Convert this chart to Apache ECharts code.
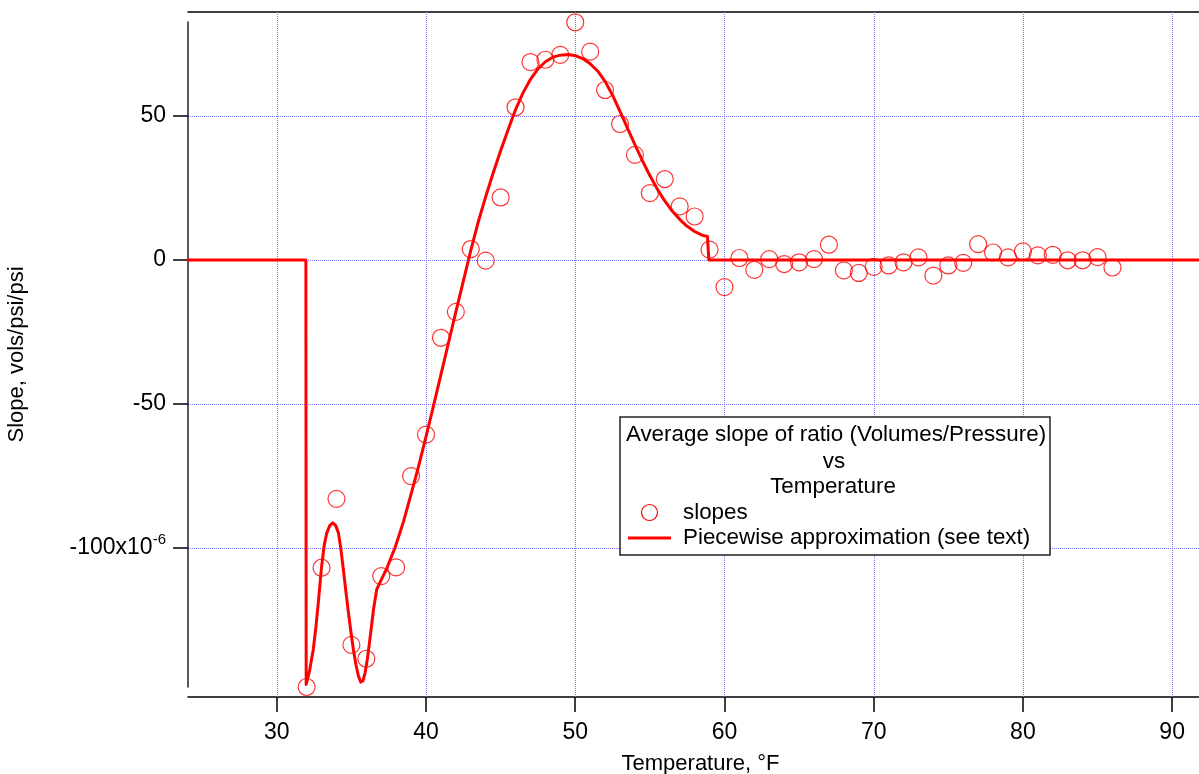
<!DOCTYPE html>
<html>
<head>
<meta charset="utf-8">
<script src="https://cdn.jsdelivr.net/npm/echarts@6/dist/echarts.min.js"></script>
<style>
html,body{margin:0;padding:0;background:#fff;}
#chart{width:1199px;height:774px;}
</style>
</head>
<body>
<div id="chart"></div>
<script>
// ---- data (slopes in units of 1e-6 vols/psi/psi) ----
const tempF = [32,33,34,35,36,37,38,39,40,41,42,43,44,45,46,47,48,49,50,51,52,53,54,55,56,57,58,59,
  60,61,62,63,64,65,66,67,68,69,70,71,72,73,74,75,76,77,78,79,80,81,82,83,84,85,86];
const slopes = [-148.2,-106.8,-82.9,-133.6,-138.4,-109.7,-106.7,-75.0,-60.6,-27.0,-18.0,3.8,-0.2,21.7,53.0,68.7,69.5,71.2,82.5,72.3,59.0,47.2,36.5,23.2,28.1,18.6,15.1,3.6,
  -9.4,0.7,-3.4,0.3,-1.4,-0.8,0.3,5.3,-3.6,-4.5,-2.4,-1.9,-0.8,0.9,-5.4,-1.9,-1.0,5.5,2.6,0.9,3.0,1.6,1.8,-0.1,-0.1,1.0,-2.6];

const approxT = [24.05,31.95,31.97,32.2,32.45,32.62,32.79,33.0,33.18,33.35,
  33.55,33.75,33.95,34.13,34.3,34.46,34.63,34.8,34.97,35.13,
  35.3,35.47,35.63,35.78,35.92,36.07,36.21,36.35,36.48,36.60,
  36.70,36.92,37.37,37.93,38.49,39.05,39.5,40.0,40.5,41.0,
  41.5,42.0,42.5,43.0,43.5,44.0,44.5,45.0,45.5,46.0,
  46.5,47.0,47.5,48.0,48.5,49.0,49.55,50.0,50.5,51.0,
  51.5,52.0,52.5,53.0,53.5,54.0,54.5,55.0,55.5,56.0,
  56.5,57.0,57.5,58.0,58.5,58.86,58.93,58.95,91.8];
const approxSlope = [0,0,-147.3,-142.5,-135,-127.5,-118.5,-106.5,-99,-94.7,
  -92.2,-91.2,-92.2,-94.7,-100.5,-107.4,-115,-122.4,-129.2,-135.1,
  -140.3,-144.4,-146.5,-146,-143.2,-138.5,-132.8,-127,-121.3,-117.5,
  -114.3,-111.9,-107.0,-99.8,-90.8,-80.3,-71.6,-61.3,-50.6,-39.8,
  -28.9,-18.0,-7.3,3.3,13.2,22.0,30.2,37.9,45.2,52.2,
  58.0,62.7,66.3,68.8,70.4,71.1,71.3,70.9,69.9,68.1,
  65.6,62.0,57.2,51.6,45.8,40.0,34.5,29.3,24.6,20.5,
  17.0,14.1,11.7,9.9,8.6,8.2,8.2,0,0];

const xTicks = [30,40,50,60,70,80,90];
const yTicks = [-100,-50,0,50];
const xRange = [24.05, 91.8];
const yRange = [-148.2, 82.6];

const FONT = "'Liberation Sans', Arial, sans-serif";
const GRID_COLOR = '#7373ff';
const gridLine = {show:true, lineStyle:{color:GRID_COLOR, width:1, type:[1,1]}};

const chart = echarts.init(document.getElementById('chart'), null, {renderer:'canvas'});
const option = {
  backgroundColor:'#fff',
  animation:false,
  grid:{left:188, right:0, top:22, bottom:87, containLabel:false, outerBoundsMode:'none'},
  xAxis:[{
    type:'value', min:xRange[0], max:xRange[1], position:'bottom', offset:10,
    name:'Temperature, °F', nameLocation:'middle', nameGap:56,
    nameTextStyle:{fontFamily:FONT, fontSize:22, color:'#000', padding:[0,0,0,14]},
    axisLine:{show:true, onZero:false, lineStyle:{color:'#000', width:1.5}},
    axisTick:{show:true, length:15, customValues:xTicks, lineStyle:{color:'#000', width:1.5}},
    axisLabel:{show:true, customValues:xTicks, margin:24, fontFamily:FONT, fontSize:23, color:'#000'},
    splitLine:{show:false}, minorTick:{show:false}
  },{
    type:'value', min:xRange[0], max:xRange[1], position:'top', offset:10,
    axisLine:{show:true, onZero:false, lineStyle:{color:'#000', width:1.5}},
    axisTick:{show:false}, axisLabel:{show:false}, splitLine:{show:false}
  }],
  yAxis:{
    type:'value', min:yRange[0], max:yRange[1],
    name:'Slope, vols/psi/psi', nameLocation:'middle', nameGap:160, nameRotate:90,
    nameTextStyle:{fontFamily:FONT, fontSize:22, color:'#000'},
    axisLine:{show:true, onZero:false, lineStyle:{color:'#222', width:1.5}},
    axisTick:{show:true, length:15, customValues:yTicks, lineStyle:{color:'#000', width:1.5}},
    axisLabel:{show:true, customValues:yTicks, margin:22, color:'#000',
      formatter:function(v){ return v === -100 ? '{a|-100x10}{sup|-6}' : '{a|' + v + '}'; },
      rich:{
        a:{fontFamily:FONT, fontSize:23, color:'#000'},
        sup:{fontFamily:FONT, fontSize:15, color:'#000', padding:[0,0,16,0]}
      }
    },
    splitLine:gridLine
  },
  series:[{
    // vertical grid lines at the x ticks, reaching from the top frame line to the bottom axis
    type:'custom', xAxisIndex:0, silent:true, clip:false, z:1,
    data: xTicks.map(v=>[v, 0]),
    encode:{x:0, y:1},
    renderItem:function(params, api){
      const x = Math.round(api.coord([api.value(0), yRange[0]])[0]) + 0.5;
      const yTop = api.coord([xRange[0], yRange[1]])[1] - 10;
      const yBot = api.coord([xRange[0], yRange[0]])[1] + 10;
      return {type:'line', shape:{x1:x, y1:yTop, x2:x, y2:yBot},
        style:{stroke:GRID_COLOR, lineWidth:1, lineDash:[1,1]}};
    }
  },{
    name:'slopes', type:'scatter', xAxisIndex:0,
    data: tempF.map((t,i)=>[t, slopes[i]]),
    symbol:'circle', symbolSize:17, clip:false,
    itemStyle:{color:'rgba(0,0,0,0)', borderColor:'#ff0000', borderWidth:1.2},
    z:3
  },{
    name:'Piecewise approximation (see text)', type:'line', xAxisIndex:0,
    data: approxT.map((t,i)=>[t, approxSlope[i]]),
    showSymbol:false, symbol:'none', clip:false, smooth:false,
    lineStyle:{color:'#ff0000', width:3, join:'round', cap:'round'},
    z:4
  }],
  graphic:[
    {type:'rect', shape:{x:620, y:417, width:430, height:138}, style:{fill:'#fff', stroke:'#222', lineWidth:1.5}, z:10},
    {type:'text', x:836, y:435, style:{text:'Average slope of ratio (Volumes/Pressure)', font:'22.4px '+FONT, fill:'#000', align:'center', verticalAlign:'middle', textAlign:'center', textVerticalAlign:'middle'}, z:11},
    {type:'text', x:834, y:461.5, style:{text:'vs', font:'22.4px '+FONT, fill:'#000', align:'center', verticalAlign:'middle', textAlign:'center', textVerticalAlign:'middle'}, z:11},
    {type:'text', x:833, y:487, style:{text:'Temperature', font:'22.4px '+FONT, fill:'#000', align:'center', verticalAlign:'middle', textAlign:'center', textVerticalAlign:'middle'}, z:11},
    {type:'circle', shape:{cx:649.5, cy:512.5, r:8}, style:{fill:'none', stroke:'#ff0000', lineWidth:1.2}, z:11},
    {type:'text', x:683, y:512.5, style:{text:'slopes', font:'22.4px '+FONT, fill:'#000', align:'left', verticalAlign:'middle', textAlign:'left', textVerticalAlign:'middle'}, z:11},
    {type:'line', shape:{x1:628, y1:538, x2:671, y2:538}, style:{stroke:'#ff0000', lineWidth:3}, z:11},
    {type:'text', x:683, y:538, style:{text:'Piecewise approximation (see text)', font:'22.4px '+FONT, fill:'#000', align:'left', verticalAlign:'middle', textAlign:'left', textVerticalAlign:'middle'}, z:11}
  ]
};
chart.setOption(option);
</script>
</body>
</html>
